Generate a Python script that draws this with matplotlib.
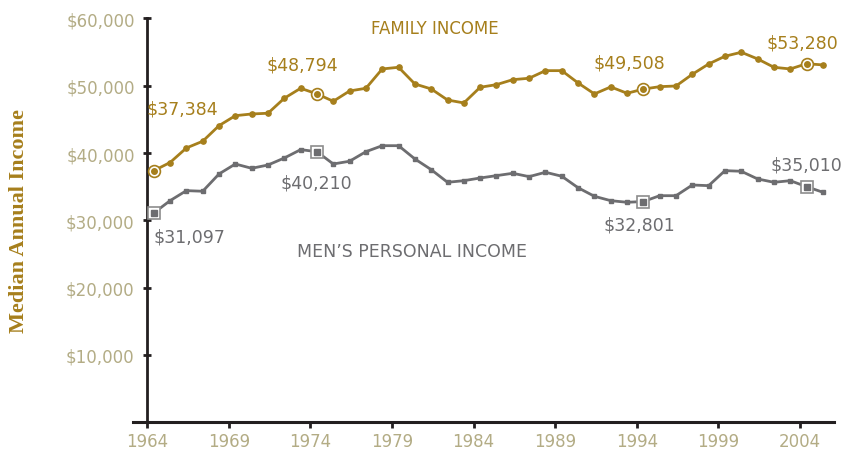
import numpy as np
import matplotlib
matplotlib.use("Agg")
import matplotlib.pyplot as plt

# median annual income, 1964-2005
years = np.arange(1964, 2006)
family = [37384, 38600, 40760, 41760, 44080, 45560, 45810, 45920, 48150, 49630,
          48794, 47700, 49230, 49630, 52500, 52750, 50270, 49530, 47890, 47450,
          49780, 50170, 50910, 51120, 52250, 52250, 50420, 48790, 49830, 48890,
          49508, 49870, 49970, 51710, 53240, 54390, 54980, 53990, 52750, 52500,
          53280, 53100]
men = [31097, 32930, 34420, 34330, 36900, 38380, 37740, 38230, 39270, 40510,
       40210, 38380, 38790, 40210, 41100, 41100, 39130, 37540, 35660, 35900,
       36300, 36650, 37000, 36500, 37150, 36560, 34850, 33580, 32930, 32690,
       32801, 33670, 33670, 35260, 35160, 37390, 37300, 36160, 35660, 35900,
       35010, 34180]
highlight_years = [1964, 1974, 1994, 2004]
xtick_years = list(range(1964, 2005, 5))
ytick_vals = [10000, 20000, 30000, 40000, 50000, 60000]

gold = '#a67f1c'
gray = '#6d6d70'
khaki = '#b3ac85'
dark = '#231f20'

family = np.array(family)
men = np.array(men)
x = years + 0.4  # points sit mid-year

fig = plt.figure(figsize=(8.56, 4.52), dpi=100)
ax = fig.add_axes([0.1554, 0.0635, 0.8189, 0.8934])

ax.plot(x, family, '-o', color=gold, lw=2, ms=3.8, zorder=3)
ax.plot(x, men, '-s', color=gray, lw=2, ms=3.5, zorder=3)

idx = [list(years).index(y) for y in highlight_years]
ax.plot(x[idx], family[idx], 'o', ms=8.5, mfc='white', mec=gold, mew=1.2, zorder=4)
ax.plot(x[idx], family[idx], 'o', color=gold, ms=4, zorder=5)
ax.plot(x[idx], men[idx], 's', ms=9, mfc='white', mec='#8c8c8c', mew=1.2, zorder=4)
ax.plot(x[idx], men[idx], 's', color=gray, ms=4, zorder=5)

# value labels, offsets in points from the marked point
fam_off = [(-5, 45), (-36, 21), (-36, 19.5), (-29, 15.5)]
men_off = [(0, -17), (-26, -22), (-29, -16.5), (-26, 16)]
for i, (dx, dy) in zip(idx, fam_off):
    ax.annotate('${:,}'.format(family[i]), (x[i], family[i]), xytext=(dx, dy),
                textcoords='offset points', ha='left', va='center',
                color=gold, fontsize=12.5)
for i, (dx, dy) in zip(idx, men_off):
    ax.annotate('${:,}'.format(men[i]), (x[i], men[i]), xytext=(dx, dy),
                textcoords='offset points', ha='left', va='center',
                color=gray, fontsize=12.5)

ax.text(1981.6, 58600, 'FAMILY INCOME', color=gold, fontsize=12,
        ha='center', va='center')
ax.text(1980.2, 25450, 'MEN\u2019S PERSONAL INCOME', color=gray, fontsize=12.5,
        ha='center', va='center')

ax.set_xlim(1963.13, 2006.08)
ax.set_ylim(0, 60000)
ax.spines['left'].set_position(('data', 1964))
ax.spines['top'].set_visible(False)
ax.spines['right'].set_visible(False)
ax.spines['left'].set_color(dark)
ax.spines['bottom'].set_color(dark)
ax.spines['left'].set_linewidth(2)
ax.spines['bottom'].set_linewidth(2.2)

ax.set_xticks(xtick_years)
ax.set_xticklabels([str(y) for y in xtick_years])
ax.set_yticks(ytick_vals)
ax.set_yticklabels(['${:,}'.format(v) for v in ytick_vals])
ax.tick_params(axis='y', direction='inout', length=6, width=2, color=dark,
               labelcolor=khaki, labelsize=12, pad=6)
ax.tick_params(axis='x', direction='out', length=4, width=2, color=dark,
               labelcolor=khaki, labelsize=12, pad=3)

ax.set_ylabel('Median Annual Income', color=gold, fontsize=16,
              fontweight='bold', family='Liberation Serif')
ax.yaxis.set_label_coords(-0.148, 0.5)

plt.savefig('out.png', dpi=100)
